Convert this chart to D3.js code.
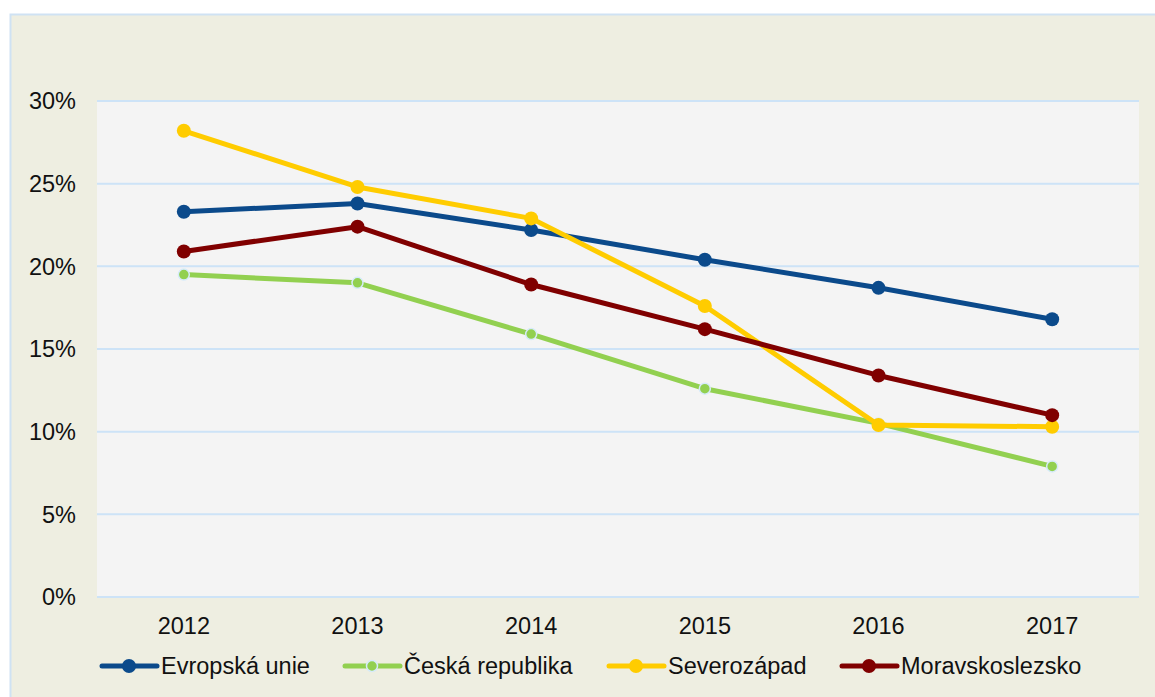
<!DOCTYPE html>
<html>
<head>
<meta charset="utf-8">
<script src="https://cdn.jsdelivr.net/npm/d3@7"></script>
<style>
  body { margin: 0; background: #fff; }
  svg { display: block; font-family: "Liberation Sans", Arial, sans-serif; }
</style>
</head>
<body>
<div id="chart"></div>
<script>
var years = ["2012", "2013", "2014", "2015", "2016", "2017"];
var yTicks = [0, 5, 10, 15, 20, 25, 30];
var seriesNames = ["Evropská unie", "Česká republika", "Severozápad", "Moravskoslezsko"];
var seriesColors = ["#0b4a8b", "#92d050", "#ffcc00", "#800000"];
var euValues = [23.3, 23.8, 22.2, 20.4, 18.7, 16.8];
var czValues = [19.5, 19.0, 15.9, 12.6, 10.5, 7.9];
var szValues = [28.2, 24.8, 22.9, 17.6, 10.4, 10.3];
var msValues = [20.9, 22.4, 18.9, 16.2, 13.4, 11.0];
var allValues = [euValues, czValues, szValues, msValues];

var width = 1155, height = 697;
var plot = {left: 97, right: 1139, top: 101, bottom: 597};
var fontSize = 23.5;

var svg = d3.select("#chart").append("svg")
    .attr("width", width)
    .attr("height", height);

// outer panel
svg.append("rect")
    .attr("x", 10.5).attr("y", 14.5)
    .attr("width", width).attr("height", height)
    .attr("fill", "#eeeee1")
    .attr("stroke", "#cfe2f3")
    .attr("stroke-width", 2);

// plot area
svg.append("rect")
    .attr("x", plot.left).attr("y", plot.top)
    .attr("width", plot.right - plot.left).attr("height", plot.bottom - plot.top)
    .attr("fill", "#f4f4f4");

var x = d3.scalePoint().domain(years).range([plot.left, plot.right]).padding(0.5);
var y = d3.scaleLinear().domain([0, 30]).range([plot.bottom, plot.top]);

// gridlines
svg.append("g").selectAll("line")
    .data(yTicks)
    .enter().append("line")
    .attr("x1", plot.left).attr("x2", plot.right)
    .attr("y1", function(d) { return y(d); })
    .attr("y2", function(d) { return y(d); })
    .attr("stroke", "#cde3f7")
    .attr("stroke-width", 2);

// y labels
svg.append("g").selectAll("text")
    .data(yTicks)
    .enter().append("text")
    .attr("x", 76)
    .attr("y", function(d) { return y(d); })
    .attr("dy", "0.35em")
    .attr("text-anchor", "end")
    .attr("font-size", fontSize)
    .attr("fill", "#111")
    .text(function(d) { return d + "%"; });

// x labels
svg.append("g").selectAll("text")
    .data(years)
    .enter().append("text")
    .attr("x", function(d) { return x(d); })
    .attr("y", 634)
    .attr("text-anchor", "middle")
    .attr("font-size", fontSize)
    .attr("fill", "#111")
    .text(function(d) { return d; });

var line = d3.line()
    .x(function(d, i) { return x(years[i]); })
    .y(function(d) { return y(d); });

allValues.forEach(function(vals, s) {
    var g = svg.append("g");
    g.append("path")
        .datum(vals)
        .attr("d", line)
        .attr("fill", "none")
        .attr("stroke", seriesColors[s])
        .attr("stroke-width", 5)
        .attr("stroke-linejoin", "round");
    g.selectAll("circle")
        .data(vals)
        .enter().append("circle")
        .attr("cx", function(d, i) { return x(years[i]); })
        .attr("cy", function(d) { return y(d); })
        .attr("r", s == 1 ? 5.5 : 7)
        .attr("fill", seriesColors[s])
        .attr("stroke", s == 1 ? "#d6ebfa" : "none")
        .attr("stroke-width", 1.5);
});

// legend
var legendX = [102, 345, 609, 842];
var legend = svg.append("g").selectAll("g")
    .data(seriesNames)
    .enter().append("g")
    .attr("transform", function(d, i) { return "translate(" + legendX[i] + ",666)"; });

legend.append("line")
    .attr("x1", 0).attr("x2", 55)
    .attr("stroke", function(d, i) { return seriesColors[i]; })
    .attr("stroke-width", 5)
    .attr("stroke-linecap", "round");
legend.append("circle")
    .attr("cx", 27)
    .attr("r", function(d, i) { return i == 1 ? 5.5 : 7; })
    .attr("fill", function(d, i) { return seriesColors[i]; })
    .attr("stroke", function(d, i) { return i == 1 ? "#d6ebfa" : "none"; })
    .attr("stroke-width", 1.5);
legend.append("text")
    .attr("x", 59)
    .attr("dy", "0.35em")
    .attr("font-size", fontSize)
    .attr("fill", "#111")
    .text(function(d) { return d; });
</script>
</body>
</html>
